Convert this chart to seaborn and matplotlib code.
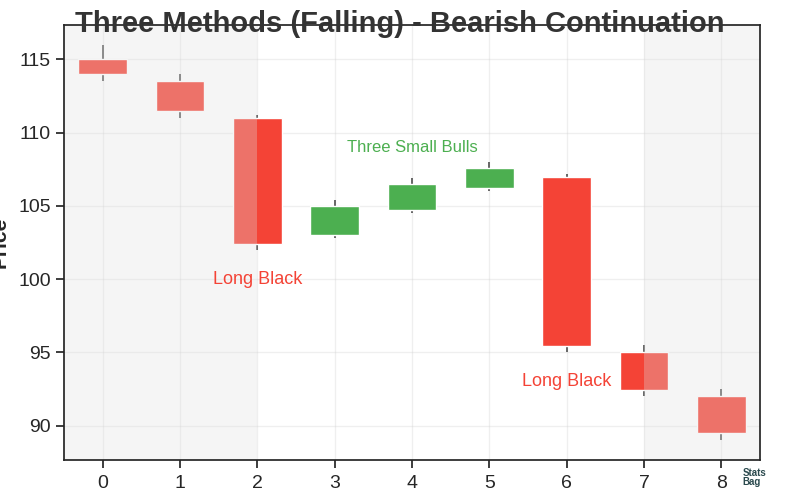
import matplotlib.pyplot as plt
import seaborn as sns

# candle data
days = [0, 1, 2, 3, 4, 5, 6, 7, 8]
opens = [115.0, 113.5, 111.0, 103.0, 104.7, 106.2, 107.0, 95.0, 92.0]
closes = [114.0, 111.5, 102.4, 105.0, 106.5, 107.6, 95.4, 92.4, 89.5]
highs = [116.0, 114.0, 111.2, 105.4, 106.9, 108.0, 107.2, 95.5, 92.5]
lows = [113.5, 111.0, 102.0, 102.8, 104.5, 106.0, 95.0, 92.0, 89.0]

red = "#f44336"
green = "#4caf50"

sns.set_theme(style="ticks", context="notebook")
plt.rcParams["font.family"] = ["Liberation Sans", "DejaVu Sans"]

fig, ax = plt.subplots(figsize=(8, 5), dpi=100)
fig.subplots_adjust(left=0.08, right=0.95, bottom=0.08, top=0.95)

colors = [green if c >= o else red for o, c in zip(opens, closes)]
bottoms = [min(o, c) for o, c in zip(opens, closes)]
heights = [abs(c - o) for o, c in zip(opens, closes)]

ax.vlines(days, lows, highs, color="#666666", linewidth=1.4, zorder=0.9)
ax.bar(days, heights, bottom=bottoms, width=0.63, color=colors, zorder=1)

# context candles before / after the pattern
ax.axvspan(-0.5, 2, color="#e0e0e0", alpha=0.3, zorder=1.2, linewidth=0)
ax.axvspan(7, 8.5, color="#e0e0e0", alpha=0.3, zorder=1.2, linewidth=0)

ax.text(2, closes[2] - 2.4, "Long Black", color=red, fontsize=13,
        ha="center", va="center")
ax.text(6, closes[6] - 2.4, "Long Black", color=red, fontsize=13,
        ha="center", va="center")
ax.text(4, max(highs[3:6]) + 1, "Three Small Bulls", color=green, fontsize=12,
        ha="center", va="center")

ax.grid(True, alpha=0.3)
for gl in ax.get_xgridlines() + ax.get_ygridlines():
    gl.set_zorder(1.5)

ax.set_xlim(-0.5, 8.5)
ax.set_xticks(days)
ax.tick_params(labelsize=14)
ax.tick_params(axis="x", pad=5)
ax.set_ylabel("Price", fontsize=15, fontweight="bold", labelpad=6)

fig.text(0.5, 0.937, "Three Methods (Falling) - Bearish Continuation",
         fontsize=21, fontweight="bold", color="#333333",
         ha="center", va="baseline")

fig.text(0.928, 0.045, "Stats\nBag", fontsize=7, fontweight="bold",
         color="#2b4a4e", ha="left", va="center", linespacing=0.9)

fig.savefig("out.png", dpi=100)
